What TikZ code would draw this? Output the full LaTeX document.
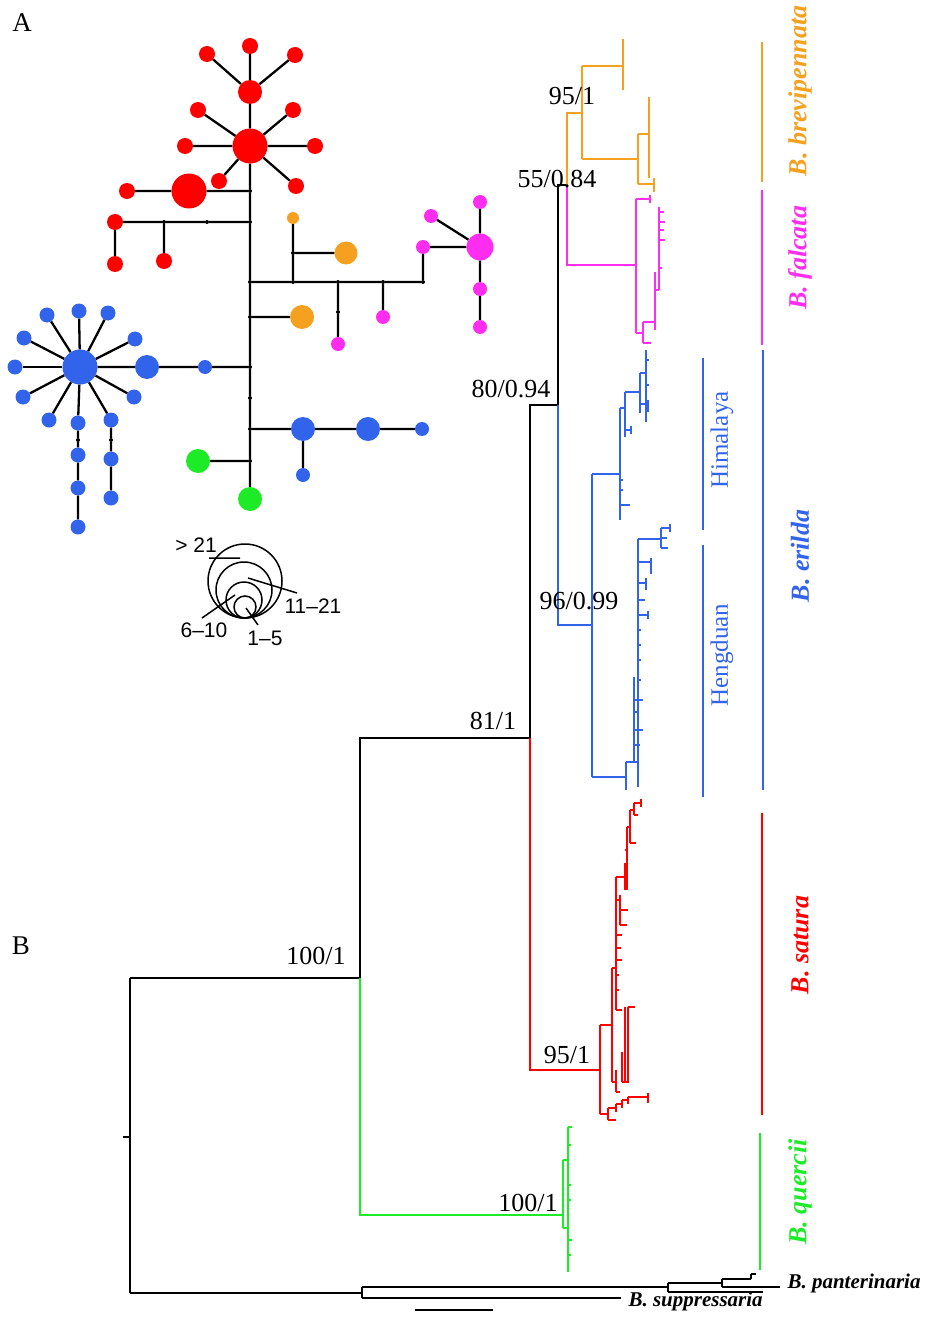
\documentclass[tikz,border=0pt]{standalone}
\usepackage{fontspec}
\setmainfont{Liberation Serif}
\newfontfamily\legfont{Liberation Sans}
\definecolor{cor}{RGB}{245,160,30}
\definecolor{cmag}{RGB}{255,45,240}
\definecolor{cblu}{RGB}{50,100,235}
\definecolor{cred}{RGB}{255,0,0}
\definecolor{cgrn}{RGB}{30,235,40}
\begin{document}
\begin{tikzpicture}[x=1pt,y=-1pt,
  hap/.style 2 args={circle,inner sep=0pt,minimum size=#1,fill=#2,draw=none},
  hs/.style={hap={16}{#1}},
  hm/.style={hap={24}{#1}},
  hl/.style={hap={35}{#1}},
  jd/.style={circle,inner sep=0pt,minimum size=4,fill=black},
  net/.style={line width=2.3pt,black},
  tr/.style={line width=1.4pt},
  bar/.style={line width=2.4pt},
  sup/.style={font=\fontsize{26}{30}\selectfont},
  spl/.style={font=\fontsize{26}{30}\selectfont\bfseries\itshape,rotate=90},
  reg/.style={font=\fontsize{25}{30}\selectfont,rotate=90},
  leg/.style={font=\legfont\fontsize{21}{25}\selectfont},
  lc/.style={line width=1.5pt}]
\useasboundingbox (0,0) rectangle (927,1324);
% panel letters
\node[font=\fontsize{27}{30}\selectfont] (pA) at (22,23) {A};
\node[font=\fontsize{27}{30}\selectfont] (pB) at (21,946) {B};
% ---------------- haplotype network ----------------
% red
\node[hs=cred] (r0) at (250,46) {};
\node[hm=cred] (r1) at (250,92) {};
\node[hs=cred] (r2) at (207,54) {};
\node[hs=cred] (r3) at (295,55) {};
\node[hl=cred] (R) at (250,146) {};
\node[hs=cred] (r4) at (198,110) {};
\node[hs=cred] (r5) at (293,110) {};
\node[hs=cred] (r6) at (185,146) {};
\node[hs=cred] (r7) at (315,146) {};
\node[hs=cred] (r8) at (219,181) {};
\node[hs=cred] (r9) at (296,186) {};
\node[hl=cred] (RB) at (189,191) {};
\node[hs=cred] (r10) at (127,191) {};
\node[jd] (j1) at (250,191) {};
\node[hs=cred] (r11) at (115,222) {};
\node[hs=cred] (r12) at (115,264) {};
\node[jd] (j2) at (164,222) {};
\node[hs=cred] (r13) at (164,261) {};
\node[jd] (j3) at (207,222) {};
\node[jd] (j4) at (250,222) {};
% orange
\node[hap={12}{cor}] (o1) at (293,218) {};
\node[jd] (j5) at (293,253) {};
\node[hap={23}{cor}] (o2) at (346,253) {};
\node[hm=cor] (o3) at (302,317) {};
% main junctions
\node[jd] (j7) at (250,282) {};
\node[jd] (j6) at (293,282) {};
\node[jd] (j8) at (338,282) {};
\node[jd] (j9) at (383,282) {};
\node[jd] (j10) at (423,282) {};
\node[jd] (j11) at (338,312) {};
\node[jd] (j12) at (250,317) {};
\node[jd] (j13) at (250,367) {};
\node[jd] (j14) at (250,398) {};
\node[jd] (j15) at (250,429) {};
\node[jd] (j16) at (250,461) {};
% magenta
\node[hap={14}{cmag}] (m1) at (338,344) {};
\node[hap={14}{cmag}] (m2) at (383,317) {};
\node[hap={14}{cmag}] (m3) at (423,247) {};
\node[hap={27}{cmag}] (M) at (480,247) {};
\node[hap={14}{cmag}] (m4) at (431,216) {};
\node[hap={14}{cmag}] (m5) at (480,202) {};
\node[hap={14}{cmag}] (m6) at (480,289) {};
\node[hap={14}{cmag}] (m7) at (480,327) {};
% blue
\node[hap={14}{cblu}] (bs) at (205,367) {};
\node[hm=cblu] (B2) at (147,367) {};
\node[hl=cblu] (B) at (80,367) {};
\foreach \n/\p in {b1/{(47,315)},b2/{(79,311)},b3/{(108,313)},b4/{(135,339)},b5/{(24,338)},b6/{(15,367)},b7/{(23,397)},b8/{(49,420)},b9/{(134,397)},b10/{(78,423)},b11/{(111,420)}}
  {\node[hap={15}{cblu}] (\n) at \p {}; \draw[net] (B) -- (\n);}
\node[jd] (bd1) at (78,440) {};
\node[hap={15}{cblu}] (b12) at (78,455) {};
\node[hap={15}{cblu}] (b13) at (78,488) {};
\node[hap={15}{cblu}] (b14) at (78,527) {};
\node[jd] (bd2) at (111,440) {};
\node[hap={15}{cblu}] (b15) at (111,459) {};
\node[hap={15}{cblu}] (b16) at (111,498) {};
\node[hm=cblu] (bb1) at (303,429) {};
\node[hm=cblu] (bb2) at (368,429) {};
\node[hap={14}{cblu}] (bb3) at (422,429) {};
\node[hap={14}{cblu}] (bb4) at (303,475) {};
% green
\node[hm=cgrn] (g1) at (198,461) {};
\node[hm=cgrn] (g2) at (250,499) {};
% edges
\draw[net] (r0)--(r1) (r1)--(r2) (r1)--(r3) (r1)--(R)
  (R)--(r4) (R)--(r5) (R)--(r6) (R)--(r7) (R)--(r8) (R)--(r9) (R)--(j1)
  (r10)--(RB) (RB)--(j1) (j1)--(j4) (r11)--(j2) (j2)--(j3) (j3)--(j4)
  (r11)--(r12) (j2)--(r13) (j4)--(j7) (j7)--(j12) (j12)--(j13) (j13)--(j14)
  (j14)--(j15) (j15)--(j16) (j16)--(g2)
  (j7)--(j6) (j6)--(j8) (j8)--(j9) (j9)--(j10) (j10)--(m3) (m3)--(M)
  (m4)--(M) (m5)--(M) (M)--(m6) (m6)--(m7)
  (j6)--(j5) (j5)--(o1) (j5)--(o2) (j8)--(j11) (j11)--(m1) (j9)--(m2) (j12)--(o3)
  (j13)--(bs) (bs)--(B2) (B2)--(B)
  (b10)--(bd1) (bd1)--(b12) (b12)--(b13) (b13)--(b14)
  (b11)--(bd2) (bd2)--(b15) (b15)--(b16)
  (j15)--(bb1) (bb1)--(bb2) (bb2)--(bb3) (bb1)--(bb4) (j16)--(g1);
% legend
\draw[lc] (245,581) circle (37);
\draw[lc] (244,590) circle (28);
\draw[lc] (244,600) circle (18);
\draw[lc] (245,607) circle (11);
\node[leg] (l21) at (196,545) {> 21};
\node[leg] (l1121) at (313,606) {11\textendash 21};
\node[leg] (l610) at (204,630) {6\textendash 10};
\node[leg] (l15) at (265,638) {1\textendash 5};
\coordinate (k1) at (209,558); \coordinate (k2) at (240,558);
\coordinate (k3) at (248,578); \coordinate (k4) at (297,593);
\coordinate (k5) at (202,618); \coordinate (k6) at (235,595);
\coordinate (k7) at (246,608); \coordinate (k8) at (258,625);
\draw[lc] (k1)--(k2) (k3)--(k4) (k5)--(k6) (k7)--(k8);
% ---------------- tree ----------------
\begin{scope}[tr]
% black backbone
\draw (123,1137)--(130,1137);
\draw (130,978)--(130,1293) (130,978)--(360,978)--(360,738)--(530,738)--(530,405)--(558,405)--(558,185)--(567,185);
\draw (130,1293)--(362,1293) (362,1287)--(362,1298) (362,1287)--(668,1287) (362,1298)--(621,1298)
  (668,1283)--(668,1292) (668,1283)--(722,1283) (668,1292)--(763,1292)
  (722,1279)--(722,1287) (722,1279)--(751,1279) (722,1287)--(780,1287)
  (751,1274)--(751,1279) (751,1274)--(756,1274);
\draw (415,1310)--(493,1310);
% orange
\draw[cor] (567,185)--(567,113)--(582,113) (582,66)--(582,159) (582,66)--(623,66) (623,39)--(623,90)
  (582,159)--(638,159) (638,134)--(638,184) (638,134)--(649,134) (649,97)--(649,178)
  (638,184)--(654,184) (654,178)--(654,192);
% magenta
\draw[cmag] (567,185)--(567,265)--(636,265) (636,199)--(636,333) (636,199)--(650,199) (650,195)--(650,203)
  (636,333)--(643,333) (643,322)--(643,343) (643,322)--(655,322) (643,343)--(651,343)
  (655,272)--(655,330) (659,207)--(659,290) (655,290)--(659,290)
  (659,212)--(664,212) (659,222)--(665,222) (659,230)--(664,230) (659,240)--(665,240) (659,268)--(662,268);
% blue
\draw[cblu] (558,405)--(558,625)--(592,625) (592,474)--(592,777) (592,474)--(620,474)
  (620,408)--(620,520) (620,408)--(625,408) (625,392)--(625,437) (625,392)--(640,392)
  (640,373)--(640,413) (640,373)--(646,373) (646,350)--(646,422)
  (640,404)--(648,404) (648,400)--(648,412) (646,360)--(649,360) (646,385)--(649,385)
  (625,430)--(631,430) (631,426)--(631,434) (620,505)--(630,505) (620,480)--(623,480) (620,490)--(623,490)
  (592,777)--(626,777) (626,762)--(626,790) (626,762)--(638,762) (638,539)--(638,787)
  (638,539)--(661,539) (661,528)--(661,548) (661,528)--(670,528) (670,524)--(670,532) (661,548)--(668,548) (661,538)--(667,538)
  (638,562)--(651,562) (651,558)--(651,574) (638,583)--(646,583) (646,578)--(646,590)
  (638,600)--(645,600) (638,615)--(648,615) (648,611)--(648,619)
  (638,630)--(641,630) (638,645)--(641,645) (638,660)--(641,660) (638,680)--(641,680)
  (634,677)--(634,762) (634,700)--(643,700) (634,712)--(639,712) (634,730)--(643,730) (634,745)--(640,745);
% red
\draw[cred] (530,738)--(530,1070)--(600,1070) (600,1025)--(600,1114) (600,1025)--(612,1025)
  (612,968)--(612,1082) (612,1082)--(616,1082) (616,1070)--(616,1092) (616,1092)--(620,1092)
  (612,968)--(616,968) (616,877)--(616,1010) (616,1010)--(622,1010)
  (622,1052)--(622,1082) (625,1007)--(625,1082) (628,1007)--(628,1083) (628,1007)--(635,1007)
  (622,1082)--(628,1082)
  (616,900)--(620,900) (620,895)--(620,925) (620,910)--(628,910) (620,925)--(627,925)
  (616,935)--(622,935) (616,948)--(621,948) (616,960)--(622,960) (616,975)--(619,975) (616,990)--(619,990)
  (616,877)--(625,877) (625,863)--(625,890) (627,827)--(627,890) (625,850)--(627,850)
  (627,827)--(630,827) (630,810)--(630,843) (630,843)--(636,843) (630,810)--(634,810) (634,803)--(634,815)
  (634,803)--(641,803) (641,799)--(641,807) (634,815)--(638,815)
  (600,1114)--(608,1114) (608,1108)--(608,1120) (608,1120)--(616,1120) (608,1108)--(616,1108)
  (616,1104)--(616,1112) (616,1104)--(622,1104) (622,1100)--(622,1108) (622,1100)--(628,1100)
  (628,1097)--(628,1104) (628,1097)--(648,1097) (648,1093)--(648,1103);
% green
\draw[cgrn] (360,978)--(360,1215)--(563,1215) (563,1160)--(563,1228) (563,1160)--(568,1160)
  (568,1127)--(568,1272) (568,1127)--(572,1127) (568,1145)--(571,1145) (568,1185)--(571,1185)
  (568,1200)--(571,1200) (568,1240)--(572,1240) (568,1255)--(571,1255) (563,1228)--(567,1228);
\end{scope}
% support values
\node[sup] (s1) at (572,96) {95/1};
\node[sup] (s2) at (557,179) {55/0.84};
\node[sup] (s3) at (511,389) {80/0.94};
\node[sup] (s4) at (579,601) {96/0.99};
\node[sup] (s5) at (493,721) {81/1};
\node[sup] (s6) at (316,956) {100/1};
\node[sup] (s7) at (567,1055) {95/1};
\node[sup] (s8) at (528,1203) {100/1};
% clade bars and labels
\coordinate (ob1) at (762,42); \coordinate (ob2) at (762,182);
\coordinate (mb1) at (762,190); \coordinate (mb2) at (762,345);
\coordinate (bb1t) at (763,350); \coordinate (bb2t) at (763,790);
\coordinate (hb1) at (703,358); \coordinate (hb2) at (703,530);
\coordinate (hd1) at (703,545); \coordinate (hd2) at (703,797);
\coordinate (rb1) at (762,813); \coordinate (rb2) at (762,1115);
\coordinate (gb1) at (760,1133); \coordinate (gb2) at (760,1270);
\draw[bar,cor] (ob1)--(ob2);
\draw[bar,cmag] (mb1)--(mb2);
\draw[bar,cblu] (bb1t)--(bb2t);
\draw[bar,cblu] (hb1)--(hb2);
\draw[bar,cblu] (hd1)--(hd2);
\draw[bar,cred] (rb1)--(rb2);
\draw[bar,cgrn] (gb1)--(gb2);
\node[spl,cor] (lbrev) at (800,91) {B. brevipennata};
\node[spl,cmag] (lfal) at (800,258) {B. falcata};
\node[spl,cblu] (leri) at (800,556) {B. erilda};
\node[reg,cblu] (lhim) at (722,440) {Himalaya};
\node[reg,cblu] (lhen) at (722,655) {Hengduan};
\node[spl,cred] (lsat) at (800,945) {B. satura};
\node[spl,cgrn] (lque) at (800,1192) {B. quercii};
\node[font=\fontsize{21}{25}\selectfont\bfseries\itshape,anchor=west] (lpan) at (784,1283) {B. panterinaria};
\node[font=\fontsize{21}{25}\selectfont\bfseries\itshape,anchor=west] (lsup) at (625,1301) {B. suppressaria};
\end{tikzpicture}
\end{document}
